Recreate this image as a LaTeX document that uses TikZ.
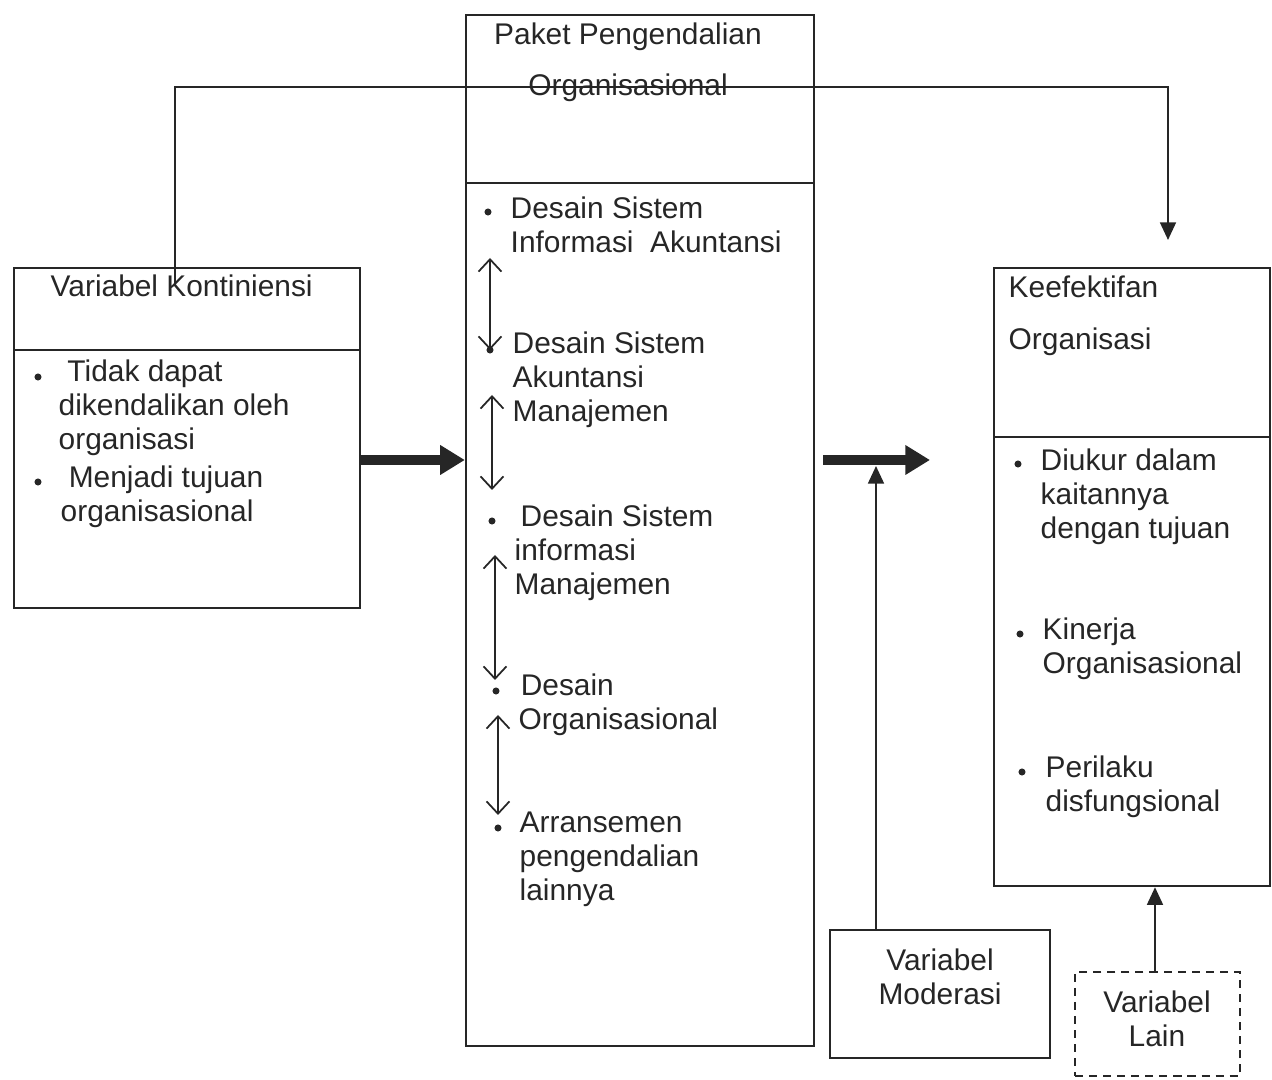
\documentclass[tikz,border=0pt]{standalone}
\usepackage{fontspec}
\setmainfont{Liberation Sans}
\usetikzlibrary{arrows.meta}
\colorlet{ink}{black!85}
\tikzset{
  panel/.style={draw=ink,line width=0.6pt,inner sep=0pt},
  txt/.style={anchor=base west,align=left,inner sep=0pt,text=ink,font=\fontsize{8.5}{9.7}\selectfont},
  ctxt/.style={txt,anchor=base,align=center},
  bigarrow/.style={draw=ink,line width=2.8pt,-{Triangle[length=7pt,width=8pt]}},
  link/.style={draw=ink,line width=0.6pt,-{Triangle[length=5pt,width=4.5pt]}},
  dbl/.style={draw=ink,line width=0.5pt,{Straight Barb[length=3.5pt,width=6.5pt]}-{Straight Barb[length=3.5pt,width=6.5pt]}}
}
\begin{document}
\begin{tikzpicture}[x=0.01cm,y=-0.01cm]
\useasboundingbox (0,0) rectangle (1272,1080);
% boxes
\node[panel,minimum width=3.46cm,minimum height=3.40cm] (kont) at (187,438) {};
\node[panel,minimum width=3.48cm,minimum height=10.31cm] (paket) at (640,530.5) {};
\node[panel,minimum width=2.76cm,minimum height=6.18cm] (efek) at (1132,577) {};
\node[panel,minimum width=2.20cm,minimum height=1.28cm] (moder) at (940,994) {};
\node[panel,dash pattern=on 2.3pt off 1.7pt,minimum width=1.65cm,minimum height=1.04cm] (lain) at (1157.5,1024) {};
\draw[ink,line width=0.6pt] (14,350) -- (360,350);
\draw[ink,line width=0.6pt] (466,183) -- (814,183);
\draw[ink,line width=0.6pt] (994,437) -- (1270,437);
% left box (nodes sit on the baseline of their last line)
\node[txt] (kontT) at (50,297) {Variabel Kontiniensi};
\node[txt] (kont1) at (58,450) {\hspace{2.5pt}Tidak dapat\\dikendalikan oleh\\organisasi};
\node[txt] (kont2) at (60,522) {\hspace{2.3pt}Menjadi tujuan\\organisasional};
\fill[ink] (38,377) circle(1pt);
\fill[ink] (38,482) circle(1pt);
% middle box
\node[ctxt] (paketT) at (628,96) {Paket Pengendalian\\[4.8pt]Organisasional};
\coordinate (b1) at (488,212);
\coordinate (b2) at (490,350);
\coordinate (b3) at (492,521);
\coordinate (b4) at (496,691);
\coordinate (b5) at (498,828);
\node[txt] (m1) at (510,253) {Desain Sistem\\Informasi\ \ Akuntansi};
\node[txt] (m2) at (512,422) {Desain Sistem\\Akuntansi\\Manajemen};
\node[txt] (m3) at (514,595) {\hspace{1.7pt}Desain Sistem\\informasi\\Manajemen};
\node[txt] (m4) at (518,730) {\hspace{0.6pt}Desain\\Organisasional};
\node[txt] (m5) at (519,901) {Arransemen\\pengendalian\\lainnya};
\foreach \b in {b1,b2,b3,b4,b5}
  \fill[ink] (\b) circle(1pt);
\coordinate (u1) at (490,258);
\coordinate (u2) at (492,395);
\coordinate (u3) at (495,555);
\coordinate (u4) at (498,715);
\coordinate (d2) at (492,490);
\coordinate (d3) at (495,680);
\coordinate (d4) at (498,815);
\draw[dbl] (u1) -- (b2);
\draw[dbl] (u2) -- (d2);
\draw[dbl] (u3) -- (d3);
\draw[dbl] (u4) -- (d4);
% right box
\node[txt] (efekT) at (1008,350) {Keefektifan\\[5.1pt]Organisasi};
\node[txt] (efek1) at (1040,539) {Diukur dalam\\kaitannya\\dengan tujuan};
\node[txt] (efek2) at (1042,674) {Kinerja\\Organisasional};
\node[txt] (efek3) at (1045,812) {Perilaku\\disfungsional};
\fill[ink] (1018,464) circle(1pt);
\fill[ink] (1020,634) circle(1pt);
\fill[ink] (1022,772) circle(1pt);
% small boxes
\node[ctxt] (moderT) at (940,1005) {Variabel\\Moderasi};
\node[ctxt] (lainT) at (1157,1047) {Variabel\\Lain};
% arrows
\coordinate (in1) at (0,460);
\draw[bigarrow] (kont.east |- in1) -- (paket.west |- in1);
\coordinate (out1) at (930,460);
\draw[bigarrow] ([xshift=0.08cm]paket.east |- out1) -- (out1);
\coordinate (modtip) at (876,466);
\draw[link] (moder.north -| modtip) -- (modtip);
\coordinate (lainx) at (1155,0);
\draw[link] (lain.north -| lainx) -- (efek.south -| lainx);
\coordinate (fbstart) at (175,285);
\coordinate (fbturn) at (1168,87);
\coordinate (fbend) at (1168,240);
\draw[link] (fbstart) |- (fbturn) -- (fbend);
\end{tikzpicture}
\end{document}
